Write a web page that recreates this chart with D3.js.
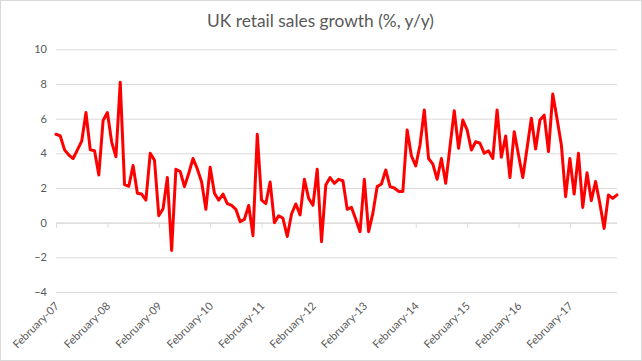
<!DOCTYPE html>
<html><head><meta charset="utf-8">
<script src="https://cdn.jsdelivr.net/npm/d3@7"></script>
<style>
html,body{margin:0;padding:0;background:#fff;}
svg{display:block;}
text{font-family:Lato,"Open Sans",sans-serif;fill:#595959;}
</style></head>
<body><svg id="chart" width="642" height="361"></svg>
<script>
const title = "UK retail sales growth (%, y/y)";
// Monthly categories: February 2007 .. January 2018
const startMonth = new Date(2007, 1, 1);
const endMonth = new Date(2018, 0, 1);
// y/y retail sales growth, %
const values = [
  5.1, 5.0, 4.2, 3.9, 3.7, 4.2, 4.7, 6.35, 4.2, 4.15, 2.75, 5.9,
  6.35, 4.65, 3.8, 8.1, 2.2, 2.1, 3.3, 1.7, 1.65, 1.3, 4.0, 3.6,
  0.4, 0.8, 2.6, -1.6, 3.08, 2.95, 2.08, 2.85, 3.7, 3.1, 2.35, 0.77,
  3.2, 1.7, 1.3, 1.65, 1.1, 1.0, 0.77, 0.05, 0.2, 1.0, -0.75, 5.1,
  1.3, 1.1, 2.35, 0.0, 0.4, 0.25, -0.8, 0.5, 1.08, 0.45, 2.5, 1.4,
  1.0, 3.08, -1.1, 2.17, 2.6, 2.27, 2.5, 2.42, 0.77, 0.88, 0.2, -0.52,
  2.5, -0.52, 0.55, 2.08, 2.23, 3.04, 2.08, 2.0, 1.8, 1.8, 5.35, 3.85,
  3.27, 4.48, 6.5, 3.7, 3.38, 2.5, 3.7, 2.27, 4.38, 6.46, 4.29, 5.92,
  5.35, 4.19, 4.67, 4.58, 4.0, 4.15, 3.7, 6.5, 3.77, 5.0, 2.6, 5.25,
  3.9, 2.6, 4.29, 6.02, 4.25, 5.92, 6.2, 4.1, 7.42, 6.0, 4.5, 1.5,
  3.7, 1.65, 4.0, 0.88, 2.88, 1.27, 2.37, 1.1, -0.33, 1.6, 1.4, 1.6
];
const yTicks = [-4, -2, 0, 2, 4, 6, 8, 10];
const xTickLabels = ["February-07","February-08","February-09","February-10","February-11","February-12",
  "February-13","February-14","February-15","February-16","February-17"];

const months = d3.timeMonth.range(startMonth, d3.timeMonth.offset(endMonth, 1));
const fmtKey = d3.timeFormat("%Y-%m");
const keys = months.map(fmtKey);
const data = keys.map((k, i) => ({key: k, value: values[i]}));

const svg = d3.select("#chart");
const W = 642, H = 361;
const plot = {left: 56, right: 617, top: 49.3, bottom: 292};

svg.append("rect").attr("x", 0.5).attr("y", 0.5).attr("width", W - 1).attr("height", H - 1)
  .attr("fill", "#fff").attr("stroke", "#d9d9d9").attr("stroke-width", 1);

const x = d3.scalePoint().domain(keys).range([plot.left, plot.right]).padding(0);
const y = d3.scaleLinear().domain([-4, 10]).range([plot.bottom, plot.top]);

// gridlines + y labels
const yAxis = d3.axisLeft(y).tickValues(yTicks).tickSize(-(plot.right - plot.left)).tickPadding(9).tickFormat(d3.format("d"));
const gy = svg.append("g").attr("transform", `translate(${plot.left},0)`).call(yAxis);
gy.select(".domain").remove();
gy.selectAll(".tick line").attr("stroke", "#d9d9d9").attr("stroke-width", 1);
gy.selectAll(".tick text").attr("font-size", 11).style("fill", "#595959")
  .attr("font-family", "Lato, 'Open Sans', sans-serif");

// category axis at zero with yearly tick marks
const yearKeys = keys.filter((k, i) => i % 12 === 0);
const xAxis = d3.axisBottom(x).tickValues(yearKeys).tickSize(5).tickFormat("");
const gx = svg.append("g").attr("transform", `translate(0,${y(0)})`).call(xAxis);
gx.select(".domain").attr("stroke", "#d9d9d9").attr("d", `M${plot.left},0.5H${plot.right}`);
gx.selectAll(".tick line").attr("stroke", "#d9d9d9");

// rotated labels at bottom
svg.append("g").selectAll("text").data(yearKeys).join("text")
  .attr("transform", (d) => `translate(${x(d) + 1},${plot.bottom + 12}) rotate(-45)`)
  .attr("text-anchor", "end")
  .attr("dy", "0.35em")
  .attr("font-size", 11)
  .text((d, i) => xTickLabels[i]);

// line
const line = d3.line().x(d => x(d.key)).y(d => y(d.value));
svg.append("path").datum(data).attr("d", line).attr("fill", "none")
  .attr("stroke", "#ff0000").attr("stroke-width", 3).attr("stroke-linejoin", "round").attr("stroke-linecap", "round");

// title
const t = svg.append("text").attr("x", 320.5).attr("y", 27).attr("text-anchor", "middle")
  .attr("font-size", 18).text(title);
const w = t.node().getComputedTextLength();
t.attr("font-size", 18 * 227 / w);
</script>
</body></html>
